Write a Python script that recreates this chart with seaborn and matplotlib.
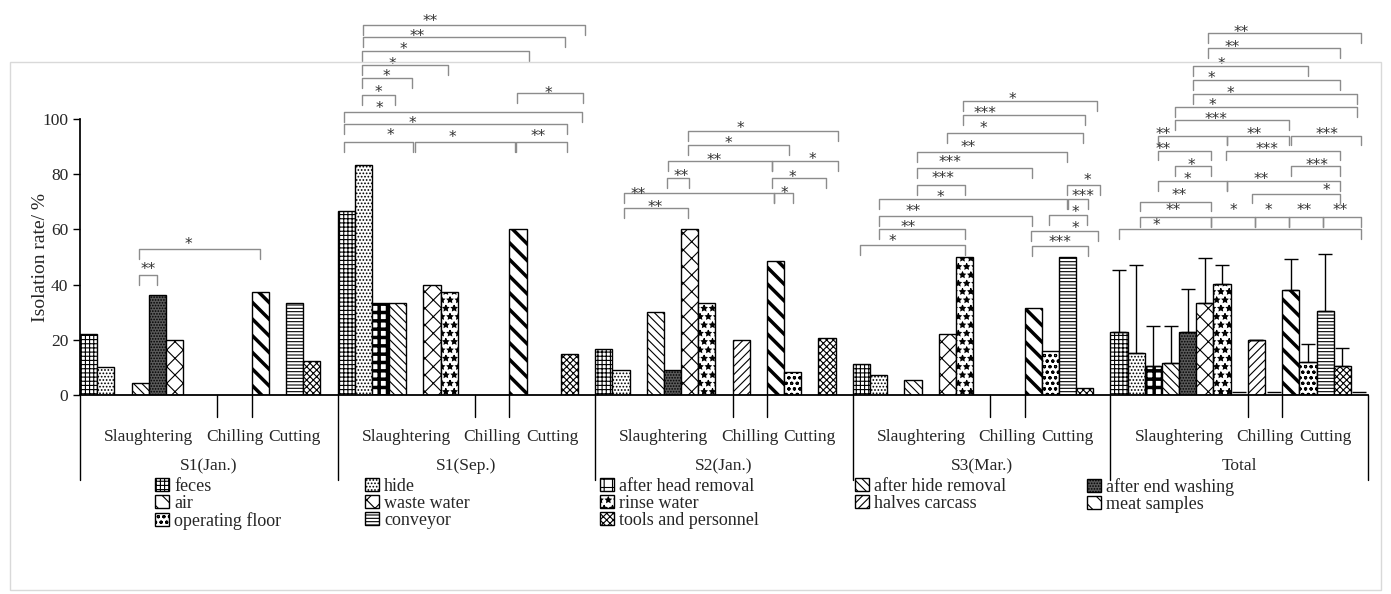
import numpy as np
import pandas as pd
import matplotlib
matplotlib.use('Agg')
import matplotlib.pyplot as plt
import matplotlib.patches as mpatches
import matplotlib.transforms as mtransforms
import seaborn as sns

groups = ['S1(Jan.)', 'S1(Sep.)', 'S2(Jan.)', 'S3(Mar.)', 'Total']
stages = ['Slaughtering', 'Chilling', 'Cutting']
stage_slots = [8, 2, 5]

# sample type of each of the 15 slots inside a group
samples = ['feces', 'hide', 'after head removal', 'after hide removal', 'after end washing',
           'waste water', 'rinse water', 'air',
           'halves carcass', 'air',
           'meat samples', 'operating floor', 'conveyor', 'tools and personnel', 'air']

s1_jan = [22.2, 10.0, 0, 4.5, 36.4, 20.0, 0, 0, 0, 0, 37.5, 0, 33.3, 12.5, 0]
s1_sep = [66.7, 83.3, 33.3, 33.3, 0, 40.0, 37.5, 0, 0, 0, 60.0, 0, 0, 15.0, 0]
s2_jan = [16.7, 9.1, 0, 30.0, 9.1, 60.0, 33.3, 0, 20.0, 0, 48.5, 8.3, 0, 20.8, 0]
s3_mar = [11.1, 7.1, 0, 5.6, 0, 22.2, 50.0, 0, 0, 0, 31.6, 16.1, 50.0, 2.6, 0]
total = [22.8, 15.2, 10.5, 11.6, 23.0, 33.2, 40.2, 0, 20.0, 0, 38.1, 12.1, 30.3, 10.6, 0]
total_sd = [22.5, 31.8, 14.5, 13.4, 15.4, 16.4, 6.8, 0, 0, 0, 11.2, 6.4, 20.7, 6.4, 0]

legend_order = ['feces', 'hide', 'after head removal', 'after hide removal', 'after end washing',
                'air', 'waste water', 'rinse water', 'halves carcass', 'meat samples',
                'operating floor', 'conveyor', 'tools and personnel']

hatches = {'feces': '++++', 'hide': '.....', 'after head removal': '++',
           'after hide removal': '\\\\\\\\', 'after end washing': '......',
           'air': '\\\\', 'waste water': 'xx', 'rinse water': '**',
           'halves carcass': '////', 'meat samples': '\\\\', 'operating floor': 'ooo',
           'conveyor': '-----', 'tools and personnel': 'xxxxx'}
faces = {'after end washing': '#5a5a5a'}
hatch_lw = {'after head removal': 2.5, 'meat samples': 2.5}

# significance brackets: (slot from, slot to, height, stars, label x, label y), slots counted inside a group
brackets = [
    [(3.44, 4.48, 43.5, '**', 3.96, 47.1), (3.44, 10.48, 52.9, '*', 6.29, 56.2)],
    [(1.48, 14.4, 134.1, '**', 5.38, 137.0), (1.48, 13.24, 129.7, '**', 4.62, 131.5),
     (1.42, 11.15, 124.6, '*', 3.81, 126.8), (1.42, 6.43, 119.6, '*', 3.17, 121.4),
     (1.42, 4.33, 114.9, '*', 2.82, 117.0), (1.42, 3.34, 108.7, '*', 2.35, 111.2),
     (10.44, 14.29, 109.4, '*', 12.25, 110.9), (0.37, 14.23, 102.5, '*', 2.41, 105.4),
     (0.37, 13.36, 98.2, '*', 4.33, 100.0), (0.37, 4.39, 91.7, '*', 3.05, 95.7),
     (4.51, 10.33, 91.7, '*', 6.66, 94.9), (10.39, 13.36, 91.7, '**', 11.67, 95.3)],
    [(5.40, 14.14, 95.7, '*', 8.43, 98.2), (5.40, 11.28, 90.6, '*', 7.73, 92.7),
     (4.24, 10.29, 84.8, '**', 6.92, 86.6), (10.29, 14.14, 84.8, '*', 12.63, 87.0),
     (4.18, 5.46, 78.6, '**', 4.99, 80.8), (10.29, 13.44, 78.6, '*', 11.48, 80.4),
     (1.68, 10.41, 73.2, '**', 2.49, 74.3), (10.41, 11.52, 73.2, '*', 10.99, 74.6),
     (1.68, 5.40, 67.8, '**', 3.48, 69.6)],
    [(6.42, 14.22, 106.5, '*', 9.27, 108.7), (6.42, 13.52, 101.4, '***', 7.70, 103.6),
     (5.49, 13.41, 94.9, '*', 7.58, 98.2), (3.74, 12.48, 88.0, '**', 6.71, 91.3),
     (3.74, 10.43, 82.2, '***', 5.66, 85.9), (3.74, 6.53, 76.1, '***', 5.25, 80.1),
     (1.53, 12.48, 71.0, '*', 5.07, 73.2), (1.53, 10.43, 64.9, '**', 3.50, 68.1),
     (1.53, 6.53, 60.1, '**', 3.21, 62.3), (0.42, 6.53, 54.3, '*', 2.33, 57.2),
     (12.48, 14.40, 76.1, '*', 13.64, 79.3), (12.53, 13.70, 71.0, '***', 13.39, 73.6),
     (11.43, 13.64, 65.2, '*', 12.94, 67.8), (10.38, 14.28, 59.4, '*', 12.94, 62.0),
     (10.43, 13.70, 54.0, '***', 12.06, 56.9)],
    [(5.68, 14.59, 131.2, '**', 7.61, 133.0), (5.68, 13.39, 125.7, '**', 7.08, 127.5),
     (4.81, 11.51, 119.2, '*', 6.44, 121.4), (4.81, 13.39, 114.1, '*', 5.86, 116.3),
     (4.81, 14.36, 109.1, '*', 6.97, 110.9), (3.76, 14.36, 104.3, '*', 5.92, 106.5),
     (3.76, 10.40, 99.5, '***', 6.15, 101.5),
     (2.75, 6.80, 94.0, '**', 3.05, 96.0), (6.80, 10.40, 94.0, '**', 8.35, 96.0),
     (10.50, 14.59, 94.0, '***', 12.60, 96.0),
     (2.75, 5.85, 88.5, '**', 3.05, 90.4), (6.70, 13.39, 88.5, '***', 9.10, 90.4),
     (3.76, 5.85, 83.0, '*', 4.70, 84.9), (10.50, 13.39, 83.0, '***', 12.00, 84.9),
     (2.75, 6.80, 77.5, '*', 4.50, 79.7), (6.80, 13.39, 77.5, '**', 8.75, 79.7),
     (8.25, 13.39, 73.0, '*', 12.60, 75.7),
     (1.75, 5.85, 70.0, '**', 4.00, 73.9),
     (1.75, 5.85, 64.5, '**', 3.65, 68.5), (5.85, 8.40, 64.5, '*', 7.15, 68.5),
     (8.40, 10.40, 64.5, '*', 9.20, 68.5), (10.40, 12.40, 64.5, '**', 11.30, 68.5),
     (12.40, 14.59, 64.5, '**', 13.40, 68.5),
     (0.50, 14.59, 60.0, '*', 2.65, 63.0)],
]

# long-form table for seaborn
rows = []
for g, vals in enumerate([s1_jan, s1_sep, s2_jan, s3_mar, total]):
    for s, v in enumerate(vals):
        if v > 0:
            rows.append({'pos': 15 * g + s, 'value': v, 'sample': samples[s]})
df = pd.DataFrame(rows)

sns.set_theme(style='white')
plt.rcParams['font.family'] = ['Liberation Serif', 'DejaVu Serif']
plt.rcParams['hatch.linewidth'] = 0.8

fig = plt.figure(figsize=(13.91, 5.94), dpi=100)
fig.patches.append(mpatches.Rectangle((0.0072, 0.0067), 0.9856, 0.889, transform=fig.transFigure,
                                      fill=False, edgecolor='#d9d9d9', lw=1))
ax = fig.add_axes([0.0575, 0.335, 0.926, 0.4646])

sns.barplot(data=df, x='pos', y='value', native_scale=True, width=1.0, color='white',
            saturation=1, edgecolor='black', linewidth=1, errorbar=None, ax=ax)
for p in ax.patches:
    s = int(round(p.get_x() + p.get_width() / 2)) % 15
    p.set_hatch(hatches[samples[s]])
    p.set_facecolor(faces.get(samples[s], 'white'))
    if hasattr(p, 'set_hatch_linewidth'):
        p.set_hatch_linewidth(hatch_lw.get(samples[s], 0.8))

# error bars of the Total group, only upwards
tpos = np.arange(60, 75)
tval = np.array(total)
tsd = np.array(total_sd)
nz = tval > 0
ax.errorbar(tpos[nz], tval[nz], yerr=[np.zeros(nz.sum()), tsd[nz]], fmt='none', ecolor='black',
            elinewidth=1, capsize=5, capthick=1, zorder=3)
lift = ax.transData + mtransforms.ScaledTranslation(0, 2.5 / 72, fig.dpi_scale_trans)
ax.plot(tpos[~nz], tval[~nz], ls='none', marker='_', ms=10, mew=1, color='black', transform=lift,
        clip_on=False)

ax.set_xlim(-0.5, 74.5)
ax.set_ylim(0, 100)
ax.set_yticks(range(0, 101, 20))
ax.set_xticks([])
ax.set_xlabel('')
ax.set_ylabel('Isolation rate/ %', fontsize=14)
ax.yaxis.set_label_coords(-0.024, 0.5)
ax.tick_params(axis='y', direction='out', length=5, width=1, labelsize=12.5, left=True, color='black')
sns.despine(ax=ax, top=True, right=True)
ax.spines['left'].set_color('black')
ax.spines['bottom'].set_color('black')
ax.spines['bottom'].set_linewidth(1.3)

# multi-level category axis
bt = ax.get_xaxis_transform()
for g, name in enumerate(groups):
    x0 = 15 * g - 0.5
    ax.plot([x0, x0], [0, -0.308], color='black', lw=1, transform=bt, clip_on=False)
    ax.text(x0 + 7.5, -0.257, name, transform=bt, ha='center', va='center', fontsize=12.5)
    start = 0
    for st, n in zip(stages, stage_slots):
        if start > 0:
            ax.plot([x0 + start, x0 + start], [0, -0.08], color='black', lw=1, transform=bt, clip_on=False)
        ax.text(x0 + start + n / 2, -0.152, st, transform=bt, ha='center', va='center', fontsize=12.5)
        start += n
ax.plot([74.5, 74.5], [0, -0.308], color='black', lw=1, transform=bt, clip_on=False)

# significance brackets
for g, blist in enumerate(brackets):
    off = 15 * g - 0.5
    for x1, x2, y, lab, lx, ly in blist:
        ax.plot([off + x1, off + x1, off + x2, off + x2], [y - 3.5, y, y, y - 3.5],
                color='#8c8c8c', lw=1, clip_on=False)
        ax.text(off + lx, ly - 1.6, lab, ha='center', va='center', fontsize=11,
                family='DejaVu Sans', color='#333333')

# legend, one column at a time like the Excel layout
handles = {k: mpatches.Patch(facecolor=faces.get(k, 'white'), edgecolor='black', hatch=hatches[k])
           for k in legend_order}
col_x = [155, 365, 600, 855, 1087]
for c in range(5):
    names = legend_order[c::5]
    fig.legend([handles[n] for n in names], names, loc='upper left',
               bbox_to_anchor=(col_x[c] / 1391, 1 - 478 / 594), frameon=False, fontsize=13,
               handlelength=0.75, handleheight=0.75, handletextpad=0.3, labelspacing=0.0,
               borderpad=0, borderaxespad=0)

fig.savefig('out.png', dpi=100)
